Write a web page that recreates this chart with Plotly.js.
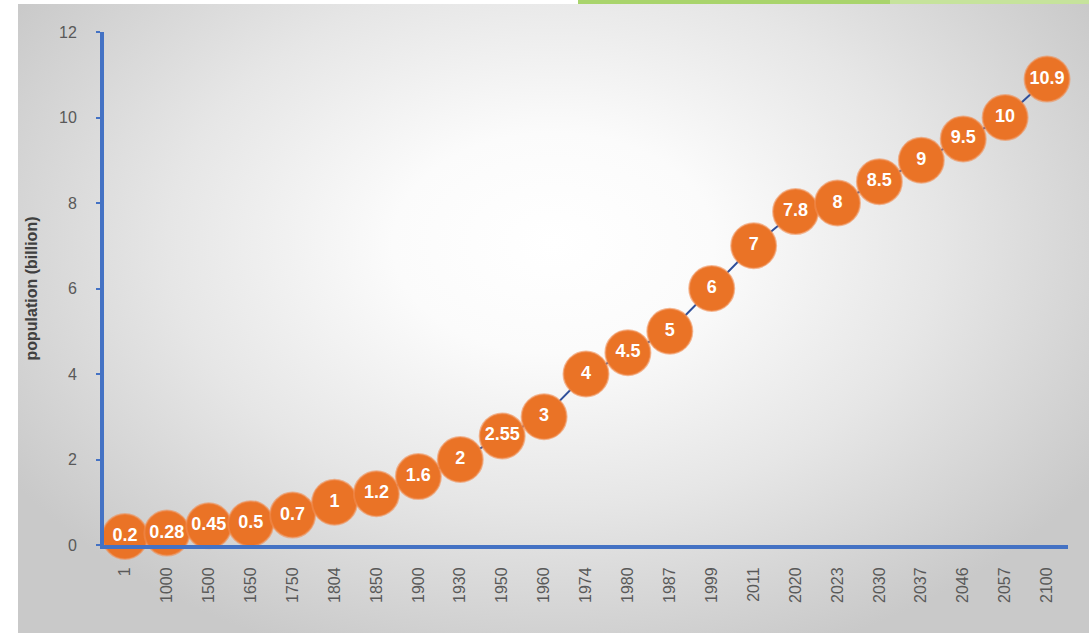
<!DOCTYPE html>
<html>
<head>
<meta charset="utf-8">
<script src="https://cdn.plot.ly/plotly-3.0.1.min.js"></script>
<style>
html,body{margin:0;padding:0;background:#ffffff;width:1089px;height:633px;overflow:hidden;}
#bg{position:absolute;left:18px;top:4px;width:1071px;height:629px;
background:radial-gradient(ellipse 60% 70% at 50% 38%, #ffffff 0%, #fbfbfb 25%, #e6e6e6 60%, #c9c9c9 100%);}
#green1{position:absolute;left:578px;top:0;width:312px;height:4px;background:#a9d46c;}
#green2{position:absolute;left:890px;top:0;width:199px;height:4px;background:#c6e39c;}
#chart{position:absolute;left:0;top:0;width:1089px;height:633px;}
</style>
</head>
<body>
<div id="bg"></div>
<div id="green1"></div>
<div id="green2"></div>
<div id="chart"></div>
<script>
const years = ["1","1000","1500","1650","1750","1804","1850","1900","1930","1950","1960","1974","1980","1987","1999","2011","2020","2023","2030","2037","2046","2057","2100"];
const population = [0.2,0.28,0.45,0.5,0.7,1,1.2,1.6,2,2.55,3,4,4.5,5,6,7,7.8,8,8.5,9,9.5,10,10.9];
const yTicks = [0,2,4,6,8,10,12];

const trace = {
  x: years,
  y: population,
  type: 'scatter',
  mode: 'lines+markers+text',
  text: population.map(String),
  textposition: 'middle center',
  textfont: {family: 'Liberation Sans, Arial, sans-serif', size: 18, color: '#ffffff', weight: 'bold'},
  line: {color: '#2f4f9a', width: 2},
  marker: {size: 45, color: '#ea7326', line: {color: 'rgba(240,140,80,0.6)', width: 2}},
  cliponaxis: false,
  hoverinfo: 'none'
};

const layout = {
  width: 1089, height: 633,
  margin: {l: 104, r: 21, t: 32, b: 88},
  paper_bgcolor: 'rgba(0,0,0,0)',
  plot_bgcolor: 'rgba(0,0,0,0)',
  showlegend: false,
  font: {family: 'Liberation Sans, Arial, sans-serif', color: '#595959'},
  xaxis: {
    type: 'category',
    range: [-0.5, 22.5],
    showline: true, linecolor: '#4472c4', linewidth: 4,
    showgrid: false, zeroline: false,
    ticks: '', tickangle: -90,
    ticklabelstandoff: 12,
    tickfont: {size: 16, color: '#595959'}
  },
  yaxis: {
    range: [0, 12],
    tickvals: yTicks,
    showline: true, linecolor: '#4472c4', linewidth: 4,
    showgrid: false, zeroline: false,
    ticks: 'outside', ticklen: 4, tickwidth: 2, tickcolor: '#4472c4',
    ticklabelstandoff: 16,
    tickfont: {size: 16, color: '#595959'},
    title: {text: 'population (billion)', font: {size: 16, color: '#404040', weight: 'bold'}, standoff: 18}
  }
};

Plotly.newPlot('chart', [trace], layout, {displayModeBar: false, staticPlot: true});
</script>
</body>
</html>
